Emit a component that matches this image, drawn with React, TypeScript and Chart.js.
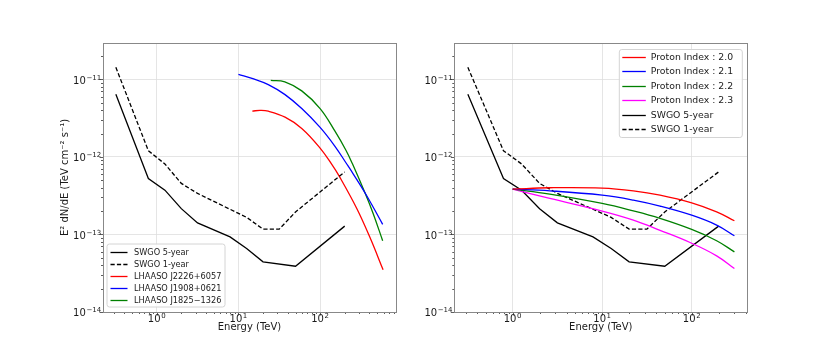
import React, { useEffect, useRef } from 'react';
import { Chart, registerables } from 'chart.js';

Chart.register(...registerables);
Chart.defaults.font.family = "'DejaVu Sans', sans-serif";

// ---------------- data ----------------
const SWGO5_E = [0.316, 0.79, 1.26, 2.0, 3.16, 7.9, 12.6, 20, 50, 200];
const SWGO5_F = [6.4e-12, 5.27e-13, 3.72e-13, 2.15e-13, 1.41e-13, 9.3e-14, 6.6e-14, 4.43e-14, 3.89e-14, 1.28e-13];
const SWGO1_E = [0.316, 0.79, 1.26, 2.0, 3.16, 12.6, 20, 31.6, 50, 200];
const SWGO1_F = [1.43e-11, 1.2e-12, 8.1e-13, 4.55e-13, 3.38e-13, 1.66e-13, 1.17e-13, 1.17e-13, 1.95e-13, 6.4e-13];

const J2226_E = [14.8, 18.5, 23.2, 37.2, 59.6, 100, 139, 172, 281, 408, 590];
const J2226_F = [3.9e-12, 3.97e-12, 3.88e-12, 3.25e-12, 2.33e-12, 1.3e-12, 8.0e-13, 5.6e-13, 2.16e-13, 9.1e-14, 3.5e-14];
const J1908_E = [10, 15, 23.2, 37.2, 59.6, 100, 152, 207, 255, 372, 583];
const J1908_F = [1.16e-11, 1.02e-11, 8.55e-12, 6.35e-12, 4.2e-12, 2.4e-12, 1.37e-12, 8.4e-13, 6.0e-13, 3.15e-13, 1.35e-13];
const J1825_E = [24.9, 37, 59.6, 100, 152, 207, 248, 355, 448, 583];
const J1825_F = [9.7e-12, 9.3e-12, 7.1e-12, 4.2e-12, 2.15e-12, 1.22e-12, 8.2e-13, 3.42e-13, 1.84e-13, 8.3e-14];

const PROTON_E = [1, 2.6, 10, 22.3, 44.3, 100, 190, 300];
const P20_F = [3.84e-13, 4.0e-13, 3.96e-13, 3.65e-13, 3.21e-13, 2.55e-13, 1.95e-13, 1.5e-13];
const P21_F = [3.84e-13, 3.65e-13, 3.21e-13, 2.77e-13, 2.32e-13, 1.77e-13, 1.32e-13, 9.6e-14];
const P22_F = [3.84e-13, 3.31e-13, 2.51e-13, 2.01e-13, 1.61e-13, 1.16e-13, 8.3e-14, 5.96e-14];
const P23_F = [3.84e-13, 2.91e-13, 2.0e-13, 1.53e-13, 1.13e-13, 7.7e-14, 5.3e-14, 3.63e-14];

const X_TICKS = [1, 10, 100];
const X_TICK_BASE = ['10', '10', '10'];
const X_TICK_EXP = ['0', '1', '2'];
const Y_TICKS = [1e-14, 1e-13, 1e-12, 1e-11];
const Y_TICK_BASE = ['10', '10', '10', '10'];
const Y_TICK_EXP = ['\u221214', '\u221213', '\u221212', '\u221211'];

const Y_TITLE = 'E\u00B2 dN/dE (TeV cm\u207B\u00B2 s\u207B\u00B9)';
const X_TITLE = 'Energy (TeV)';

// ---------------- helpers ----------------
const pts = (xs: number[], ys: number[]) => xs.map((x, i) => ({ x, y: ys[i] }));

const TEXT = '#1a1a1a';
const GRID = '#dedede';
const FONT = "'DejaVu Sans', sans-serif";

const solid = (label: string, xs: number[], ys: number[], color: string, smooth: boolean) => ({
  label,
  data: pts(xs, ys),
  borderColor: color,
  backgroundColor: color,
  borderWidth: 1.3,
  pointRadius: 0,
  fill: false,
  tension: smooth ? 0.4 : 0,
  cubicInterpolationMode: 'default',
});

const dashed = (label: string, xs: number[], ys: number[], color: string) => ({
  ...solid(label, xs, ys, color, false),
  borderDash: [4.2, 2.2],
});

// mathtext-like "10^n" label
function drawPow(ctx: CanvasRenderingContext2D, base: string, exp: string, x: number, y: number, align: 'right' | 'center') {
  ctx.font = `10px ${FONT}`;
  const wb = ctx.measureText(base).width;
  ctx.font = `7px ${FONT}`;
  const we = ctx.measureText(exp).width;
  const total = wb + 0.6 + we;
  const left = align === 'right' ? x - total : x - total / 2;
  ctx.font = `10px ${FONT}`;
  ctx.fillText(base, left, y);
  ctx.font = `7px ${FONT}`;
  ctx.fillText(exp, left + wb + 0.6, y - 4);
}

const axesPlugin = {
  id: 'mplAxes',
  afterDraw(chart: any) {
    const ctx = chart.ctx;
    const a = chart.chartArea;
    const xs = chart.scales.x;
    const ys = chart.scales.y;
    ctx.save();
    ctx.strokeStyle = '#333';
    ctx.lineWidth = 0.8;
    const tickX = (v: number, len: number) => {
      const p = Math.round(xs.getPixelForValue(v)) + 0.5;
      ctx.beginPath();
      ctx.moveTo(p, a.bottom);
      ctx.lineTo(p, a.bottom + len);
      ctx.stroke();
    };
    const tickY = (v: number, len: number) => {
      const p = Math.round(ys.getPixelForValue(v)) + 0.5;
      ctx.beginPath();
      ctx.moveTo(a.left, p);
      ctx.lineTo(a.left - len, p);
      ctx.stroke();
    };
    const minor = (min: number, max: number, fn: (v: number) => void) => {
      for (let d = Math.floor(Math.log10(min)); d <= Math.ceil(Math.log10(max)); d++) {
        for (let m = 2; m <= 9; m++) {
          const v = m * Math.pow(10, d);
          if (v > min && v < max) fn(v);
        }
      }
    };
    minor(xs.min, xs.max, (v) => tickX(v, 2));
    minor(ys.min, ys.max, (v) => tickY(v, 2));
    X_TICKS.forEach((v) => tickX(v, 3.5));
    Y_TICKS.forEach((v) => tickY(v, 3.5));
    ctx.strokeStyle = '#888';
    ctx.lineWidth = 1;
    ctx.strokeRect(Math.round(a.left) + 0.5, Math.round(a.top) + 0.5, Math.round(a.right - a.left), Math.round(a.bottom - a.top));

    // tick labels
    ctx.fillStyle = TEXT;
    ctx.textAlign = 'left';
    ctx.textBaseline = 'alphabetic';
    X_TICKS.forEach((v, i) => {
      drawPow(ctx, X_TICK_BASE[i], X_TICK_EXP[i], xs.getPixelForValue(v), a.bottom + 9.8, 'center');
    });
    Y_TICKS.forEach((v, i) => {
      drawPow(ctx, Y_TICK_BASE[i], Y_TICK_EXP[i], a.left - 1.8, ys.getPixelForValue(v) + 4.2, 'right');
    });
    ctx.restore();
  },
};

const legendPlugin = {
  id: 'mplLegend',
  afterDraw(chart: any, _args: any, opts: any) {
    if (!opts || !opts.show) return;
    const ctx = chart.ctx;
    const a = chart.chartArea;
    const x0 = a.left + opts.dx;
    const y0 = a.top + opts.dy;
    ctx.save();
    const r = 2.5;
    ctx.beginPath();
    ctx.moveTo(x0 + r, y0);
    ctx.lineTo(x0 + opts.w - r, y0);
    ctx.quadraticCurveTo(x0 + opts.w, y0, x0 + opts.w, y0 + r);
    ctx.lineTo(x0 + opts.w, y0 + opts.h - r);
    ctx.quadraticCurveTo(x0 + opts.w, y0 + opts.h, x0 + opts.w - r, y0 + opts.h);
    ctx.lineTo(x0 + r, y0 + opts.h);
    ctx.quadraticCurveTo(x0, y0 + opts.h, x0, y0 + opts.h - r);
    ctx.lineTo(x0, y0 + r);
    ctx.quadraticCurveTo(x0, y0, x0 + r, y0);
    ctx.closePath();
    ctx.fillStyle = 'rgba(255,255,255,0.85)';
    ctx.fill();
    ctx.strokeStyle = '#d4d4d4';
    ctx.lineWidth = 1;
    ctx.stroke();
    ctx.font = `${opts.fontSize}px ${FONT}`;
    ctx.textBaseline = 'middle';
    ctx.textAlign = 'left';
    chart.data.datasets.forEach((ds: any, i: number) => {
      const cy = Math.round(y0 + opts.first + i * opts.step) + 0.5;
      ctx.strokeStyle = ds.borderColor;
      ctx.lineWidth = 1.3;
      ctx.setLineDash(ds.borderDash || []);
      ctx.beginPath();
      ctx.moveTo(x0 + opts.lineX, cy);
      ctx.lineTo(x0 + opts.lineX + opts.lineW, cy);
      ctx.stroke();
      ctx.setLineDash([]);
      ctx.fillStyle = TEXT;
      ctx.fillText(ds.label, x0 + opts.textX, cy);
    });
    ctx.restore();
  },
};

type Cfg = {
  datasets: any[];
  xMin: number;
  xMax: number;
  padLeft: number;
  padRight: number;
  yWidth: number;
  yTitle: boolean;
  legend: any;
};

function makeConfig(c: Cfg): any {
  return {
    type: 'line',
    data: { datasets: c.datasets },
    plugins: [axesPlugin, legendPlugin],
    options: {
      animation: false,
      responsive: false,
      maintainAspectRatio: false,
      layout: { autoPadding: false, padding: { left: c.padLeft, right: c.padRight, top: 43, bottom: 0 } },
      plugins: {
        legend: { display: false },
        tooltip: { enabled: false },
        mplLegend: c.legend,
      },
      scales: {
        x: {
          type: 'logarithmic',
          min: c.xMin,
          max: c.xMax,
          bounds: 'data',
          afterBuildTicks: (s: any) => {
            s.ticks = X_TICKS.map((v) => ({ value: v }));
          },
          afterFit: (s: any) => {
            s.height = 44;
          },
          grid: { color: GRID, lineWidth: 0.8, drawTicks: false },
          border: { display: false },
          ticks: { display: false, autoSkip: false },
          title: { display: true, text: X_TITLE, color: TEXT, font: { size: 10 }, padding: { top: 0, bottom: 23 } },
        },
        y: {
          type: 'logarithmic',
          min: 1e-14,
          max: 2.94e-11,
          bounds: 'data',
          afterBuildTicks: (s: any) => {
            s.ticks = Y_TICKS.map((v) => ({ value: v }));
          },
          afterFit: (s: any) => {
            s.width = c.yWidth;
          },
          grid: { color: GRID, lineWidth: 0.8, drawTicks: false },
          border: { display: false },
          ticks: { display: false, autoSkip: false },
          title: { display: c.yTitle, text: Y_TITLE, color: TEXT, font: { size: 10 }, padding: { top: 19, bottom: 0 } },
        },
      },
    },
  };
}

export default function App() {
  const leftRef = useRef<HTMLCanvasElement>(null);
  const rightRef = useRef<HTMLCanvasElement>(null);

  useEffect(() => {
    document.body.style.margin = '0';
    const left = new Chart(
      leftRef.current as HTMLCanvasElement,
      makeConfig({
        datasets: [
          solid('SWGO 5-year', SWGO5_E, SWGO5_F, '#000000', false),
          dashed('SWGO 1-year', SWGO1_E, SWGO1_F, '#000000'),
          solid('LHAASO J2226+6057', J2226_E, J2226_F, '#ff0000', true),
          solid('LHAASO J1908+0621', J1908_E, J1908_F, '#0000ff', true),
          solid('LHAASO J1825\u22121326', J1825_E, J1825_F, '#008000', true),
        ],
        xMin: 0.22,
        xMax: 849,
        padLeft: 40,
        padRight: 19,
        yWidth: 63,
        yTitle: true,
        legend: { show: true, dx: 4, dy: 201, w: 118, h: 63, first: 7.5, step: 12.1, lineX: 3.5, lineW: 17, textX: 27, fontSize: 8.2 },
      })
    );
    const right = new Chart(
      rightRef.current as HTMLCanvasElement,
      makeConfig({
        datasets: [
          solid('Proton Index : 2.0', PROTON_E, P20_F, '#ff0000', true),
          solid('Proton Index : 2.1', PROTON_E, P21_F, '#0000ff', true),
          solid('Proton Index : 2.2', PROTON_E, P22_F, '#008000', true),
          solid('Proton Index : 2.3', PROTON_E, P23_F, '#ff00ff', true),
          solid('SWGO 5-year', SWGO5_E, SWGO5_F, '#000000', false),
          dashed('SWGO 1-year', SWGO1_E, SWGO1_F, '#000000'),
        ],
        xMin: 0.223,
        xMax: 418,
        padLeft: 0,
        padRight: 82.7,
        yWidth: 39.3,
        yTitle: false,
        legend: { show: true, dx: 165, dy: 6.5, w: 123, h: 88, first: 7, step: 14.5, lineX: 3, lineW: 23.5, textX: 31.5, fontSize: 9.3 },
      })
    );
    return () => {
      left.destroy();
      right.destroy();
    };
  }, []);

  return (
    <div style={{ position: 'relative', width: 830, height: 356, background: '#ffffff' }}>
      <canvas ref={leftRef} width={415} height={356} style={{ position: 'absolute', left: 0, top: 0 }} />
      <canvas ref={rightRef} width={415} height={356} style={{ position: 'absolute', left: 415, top: 0 }} />
    </div>
  );
}
